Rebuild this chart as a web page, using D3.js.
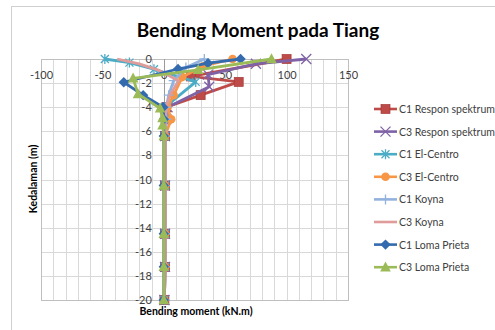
<!DOCTYPE html>
<html><head><meta charset="utf-8">
<script src="https://cdn.jsdelivr.net/npm/d3@7"></script>
<style>
html,body{margin:0;padding:0;background:#fff;}
svg{display:block;font-family:Lato,"Open Sans",sans-serif;}
</style></head>
<body>
<svg id="c" width="495" height="330"></svg>
<script>
const xTicks = [-100, -50, 0, 50, 100, 150];
const yTicks = [0, -2, -4, -6, -8, -10, -12, -14, -16, -18, -20];
const seriesNames = ["C1 Respon spektrum","C3 Respon spektrum","C1 El-Centro","C3 El-Centro","C1 Koyna","C3 Koyna","C1 Loma Prieta","C3 Loma Prieta"];

const c1RsDepth  = [0, -1.45, -1.9, -3, -4, -5, -6.4, -10.5, -14.5, -17.25, -20];
const c1RsMoment = [100, 22, 61, 30, 2, 1.5, 1, 1, 1, 1, 0.5];
const c3RsDepth  = [0, -0.4, -1.3, -2.3, -4, -5, -6.4, -10.5, -14.5, -17.25, -20];
const c3RsMoment = [116, 75, 36, 37, 3, 2, 1, 1, 1, 1, 0.5];
const c1EcDepth  = [0, -0.3, -0.85, -1.9, -4, -5, -6.4, -10.5, -14.5, -17.25, -20];
const c1EcMoment = [-48, -28, -8, 26, 1, 1, 1, 1, 1, 1, 0.5];
const c3EcDepth  = [0, -0.6, -1.5, -3, -4, -5, -6.4, -10.5, -14.5, -17.25, -20];
const c3EcMoment = [56, 32, 15, 8, 3, 6, 1, 1, 1, 1, 0.5];
const c1KDepth   = [0, -0.7, -1.8, -3, -4, -5, -6.4, -10.5, -14.5, -17.25, -20];
const c1KMoment  = [33, 18, 8, 4, 2, 2, 1, 1, 1, 1, 0.5];
const c3KDepth   = [0, -0.4, -0.9, -1.8, -3, -4, -5, -6.4, -10.5, -14.5, -17.25, -20];
const c3KMoment  = [-38, -20, -5, 12, 5, 2, 1, 1, 1, 1, 1, 0.5];
const c1LpDepth  = [0, -0.35, -0.83, -1.93, -3, -4, -5, -6.4, -10.5, -14.5, -17.25, -20];
const c1LpMoment = [62.5, 36, 11.6, -32.6, -16.8, -0.5, 0, 0, 0, 0, 0, 0];
const c3LpDepth  = [0, -0.9, -1.6, -2.9, -4.1, -4.9, -5.5, -6.4, -10.5, -14.5, -17.25, -20];
const c3LpMoment = [87.7, 28, -25, -21, -3, -1, -1, 0, 0, 0, 0, 0];

const styles = [
  {color:"#be4b48", marker:"square"},
  {color:"#7f62a6", marker:"x"},
  {color:"#4bacc6", marker:"star"},
  {color:"#f79646", marker:"circle"},
  {color:"#92b2de", marker:"plus"},
  {color:"#e09c9a", marker:"none"},
  {color:"#346aae", marker:"diamond"},
  {color:"#9bbb59", marker:"triangle"}
];
const depths = [c1RsDepth,c3RsDepth,c1EcDepth,c3EcDepth,c1KDepth,c3KDepth,c1LpDepth,c3LpDepth];
const moments = [c1RsMoment,c3RsMoment,c1EcMoment,c3EcMoment,c1KMoment,c3KMoment,c1LpMoment,c3LpMoment];

const svg = d3.select("#c");
svg.append("rect").attr("x",11.5).attr("y",6.5).attr("width",490).attr("height",340)
  .attr("fill","#fff").attr("stroke","#d0d0d0");

const x = d3.scaleLinear().domain([-100,150]).range([41,348]);
const y = d3.scaleLinear().domain([0,-20]).range([59,300]);

// grid
const g = svg.append("g");
g.selectAll(".vg").data(d3.range(-100,151,10)).enter().append("line")
  .attr("x1",d=>Math.round(x(d))+0.5).attr("x2",d=>Math.round(x(d))+0.5)
  .attr("y1",y(0)).attr("y2",y(-20)).attr("stroke","#d9d9d9").attr("stroke-width",1);
g.selectAll(".hg").data(yTicks).enter().append("line")
  .attr("y1",d=>Math.round(y(d))+0.5).attr("y2",d=>Math.round(y(d))+0.5)
  .attr("x1",x(-100)).attr("x2",x(150)).attr("stroke","#d9d9d9").attr("stroke-width",1);
g.append("rect").attr("x",Math.round(x(-100))+0.5).attr("y",Math.round(y(0))+0.5)
  .attr("width",Math.round(x(150))-Math.round(x(-100))).attr("height",Math.round(y(-20))-Math.round(y(0)))
  .attr("fill","none").attr("stroke","#bfbfbf");
g.append("line").attr("x1",Math.round(x(0))+0.5).attr("x2",Math.round(x(0))+0.5)
  .attr("y1",y(0)).attr("y2",y(-20)).attr("stroke","#9a9a9a");

// tick labels (hyphen-minus as in the reference)
const fmt = d => String(d);
const xAxis = d3.axisBottom(x).tickValues(xTicks).tickSize(0).tickFormat(fmt);
const xa = svg.append("g").attr("transform",`translate(0,${y(0)+9})`).call(xAxis);
xa.select(".domain").remove();
xa.selectAll("text").attr("font-size",11).attr("fill","#404040").attr("font-family","Lato,sans-serif");
const yAxis = d3.axisLeft(y).tickValues(yTicks).tickSize(0).tickFormat(fmt);
const ya = svg.append("g").attr("transform",`translate(${x(0)-9},0)`).call(yAxis);
ya.select(".domain").remove();
ya.selectAll("text").attr("font-size",11).attr("fill","#404040").attr("font-family","Lato,sans-serif");

// title and axis titles
svg.append("text").attr("x",258).attr("y",37).attr("text-anchor","middle")
  .attr("font-size",19).attr("font-weight","bold").attr("fill","#000").text("Bending Moment pada Tiang");
svg.append("text").attr("x",196).attr("y",315).attr("text-anchor","middle")
  .attr("font-size",10.5).attr("font-weight","bold").attr("fill","#000").text("Bending moment (kN.m)");
svg.append("text").attr("transform","translate(37,179) rotate(-90)").attr("text-anchor","middle")
  .attr("font-size",10.5).attr("font-weight","bold").attr("fill","#000").text("Kedalaman (m)");

function drawMarker(sel, type, color, cx, cy){
  const s = sel.append("g").attr("transform",`translate(${cx},${cy})`);
  if(type==="square") s.append("rect").attr("x",-4.5).attr("y",-4.5).attr("width",9).attr("height",9).attr("fill",color).attr("stroke","#a33a37").attr("stroke-width",0.7);
  else if(type==="circle") s.append("circle").attr("r",4.3).attr("fill",color);
  else if(type==="diamond") s.append("path").attr("d","M0,-5.2L5.2,0L0,5.2L-5.2,0Z").attr("fill",color);
  else if(type==="triangle") s.append("path").attr("d","M0,-5.8L5.3,4.2L-5.3,4.2Z").attr("fill",color);
  else if(type==="x") s.append("path").attr("d","M-5,-5L5,5M-5,5L5,-5").attr("stroke",color).attr("stroke-width",1.3).attr("fill","none");
  else if(type==="star") s.append("path").attr("d","M-4,-4L4,4M-4,4L4,-4M0,-5L0,5").attr("stroke",color).attr("stroke-width",1.3).attr("fill","none");
  else if(type==="plus") s.append("path").attr("d","M0,-5L0,5M-5,0L5,0").attr("stroke",color).attr("stroke-width",1.3).attr("fill","none");
}

const line = d3.line().x(d=>x(d[0])).y(d=>y(d[1]));
const plot = svg.append("g");
seriesNames.forEach((name,i)=>{
  const pts = moments[i].map((m,j)=>[m, depths[i][j]]);
  plot.append("path").attr("d",line(pts)).attr("fill","none").attr("stroke",styles[i].color)
    .attr("stroke-width",2.8).attr("stroke-linejoin","round");
  const mg = plot.append("g");
  pts.forEach(p=>drawMarker(mg, styles[i].marker, styles[i].color, x(p[0]), y(p[1])));
});

// legend
const leg = svg.append("g");
seriesNames.forEach((name,i)=>{
  const ly = 109 + i*22.6;
  leg.append("line").attr("x1",374).attr("x2",397).attr("y1",ly).attr("y2",ly)
    .attr("stroke",styles[i].color).attr("stroke-width",2.6);
  drawMarker(leg, styles[i].marker, styles[i].color, 385.5, ly);
  leg.append("text").attr("x",399).attr("y",ly+4).attr("font-size",10.5).attr("fill","#404040").text(name);
});
</script>
</body></html>
